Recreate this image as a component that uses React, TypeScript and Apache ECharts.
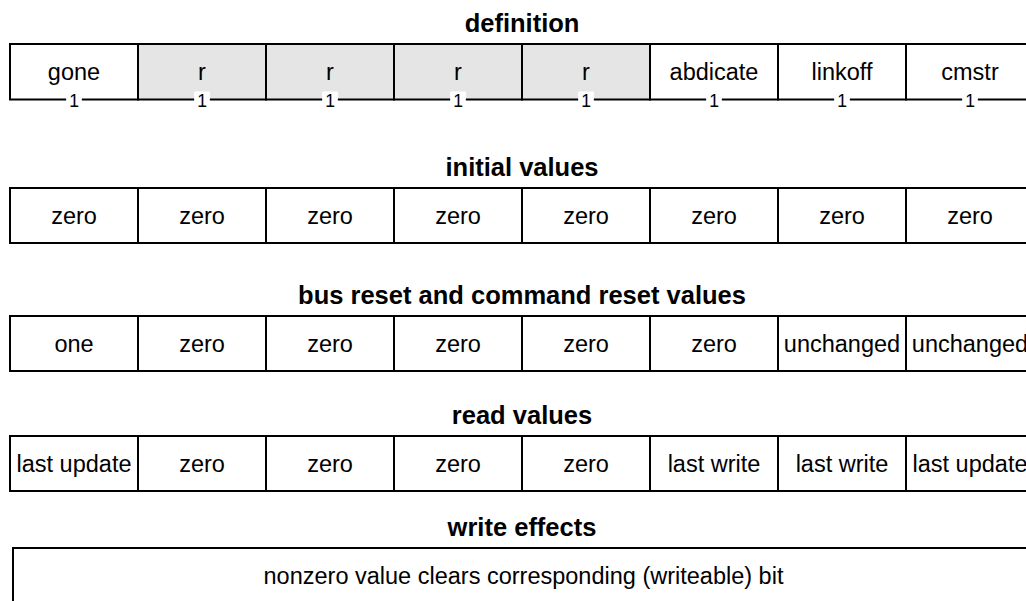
import React, { useEffect, useRef } from "react";
import * as echarts from "echarts";

// ---- data ----
const sectionTitles = [
  "definition",
  "initial values",
  "bus reset and command reset values",
  "read values",
  "write effects",
];
const fieldNames = ["gone", "r", "r", "r", "r", "abdicate", "linkoff", "cmstr"];
const fieldWidths = [1, 1, 1, 1, 1, 1, 1, 1];
const fieldReserved = [false, true, true, true, true, false, false, false];
const initialValues = ["zero", "zero", "zero", "zero", "zero", "zero", "zero", "zero"];
const resetValues = ["one", "zero", "zero", "zero", "zero", "zero", "unchanged", "unchanged"];
const readValues = ["last update", "zero", "zero", "zero", "zero", "last write", "last write", "last update"];
const writeEffects = ["nonzero value clears corresponding (writeable) bit"];
const writeEffectSpans = [8];

// ---- layout ----
const FONT = "'Liberation Sans', Arial, Helvetica, sans-serif";
const rowTops = [44, 188, 316, 436, 548];
const rowHeights = [55.5, 55, 55, 55, 56];
const rowLefts = [10, 10, 10, 10, 13];
const rowWidths = [1024, 1024, 1024, 1024, 1021];

type Cell = { start: number; span: number; label: string; shaded: boolean; bits?: number };

function cellsFrom(labels: string[], spans?: number[], shaded?: boolean[], bits?: boolean): Cell[] {
  const out: Cell[] = [];
  let pos = 0;
  labels.forEach((l, i) => {
    const span = spans ? spans[i] : 1;
    out.push({ start: pos, span, label: l, shaded: shaded ? shaded[i] : false, bits: bits && spans ? spans[i] : undefined });
    pos += span;
  });
  return out;
}

const rows: Cell[][] = [
  cellsFrom(fieldNames, fieldWidths, fieldReserved, true),
  cellsFrom(initialValues),
  cellsFrom(resetValues),
  cellsFrom(readValues),
  cellsFrom(writeEffects, writeEffectSpans),
];

export default function App() {
  const ref = useRef<HTMLDivElement>(null);
  useEffect(() => {
    if (!ref.current) return;
    const chart = echarts.init(ref.current, undefined, { renderer: "svg" });

    const grids = rows.map((_, i) => ({
      left: rowLefts[i],
      top: rowTops[i],
      width: rowWidths[i],
      height: rowHeights[i],
    }));
    const xAxes = rows.map((_, i) => ({ gridIndex: i, type: "value", min: 0, max: 8, show: false }));
    const yAxes = rows.map((_, i) => ({ gridIndex: i, type: "value", min: 0, max: 1, show: false }));

    const boxSeries = rows.map((cells, ri) => ({
      type: "custom",
      xAxisIndex: ri,
      yAxisIndex: ri,
      clip: false,
      z: 2,
      data: cells.map((c) => [c.start, c.span]),
      renderItem: (params: any, api: any) => {
        const c = cells[params.dataIndex];
        const p0 = api.coord([api.value(0), 1]);
        const p1 = api.coord([api.value(0) + api.value(1), 0]);
        return {
          type: "group",
          children: [
            {
              type: "rect",
              shape: { x: p0[0], y: p0[1], width: p1[0] - p0[0], height: p1[1] - p0[1] },
              style: { fill: c.shaded ? "#e5e5e5" : "#fff", stroke: "#000", lineWidth: 2 },
            },
            {
              type: "text",
              style: {
                text: c.label,
                x: (p0[0] + p1[0]) / 2,
                y: (p0[1] + p1[1]) / 2,
                align: "center",
                verticalAlign: "middle",
                fontFamily: FONT,
                fontSize: 23.5,
                fill: "#000",
              },
            },
          ],
        };
      },
    }));

    const defCells = rows[0];
    const bitSeries = {
      type: "custom",
      xAxisIndex: 0,
      yAxisIndex: 0,
      clip: false,
      z: 3,
      data: defCells.map((c) => [c.start, c.span, c.bits]),
      renderItem: (params: any, api: any) => {
        const p = api.coord([api.value(0) + api.value(1) / 2, 0]);
        return {
          type: "text",
          style: {
            text: String(api.value(2)),
            x: p[0],
            y: p[1] + 1,
            align: "center",
            verticalAlign: "middle",
            fontFamily: FONT,
            fontSize: 17.5,
            fill: "#000",
            backgroundColor: "#fff",
            padding: [0, 3],
          },
        };
      },
    };

    chart.setOption({
      animation: false,
      title: sectionTitles.map((t, i) => ({
        text: t,
        left: 522,
        top: rowTops[i] - 34,
        textAlign: "center",
        padding: 0,
        textStyle: { fontFamily: FONT, fontSize: 25.5, fontWeight: "bold", color: "#000" },
      })),
      grid: grids,
      xAxis: xAxes,
      yAxis: yAxes,
      series: [...boxSeries, bitSeries],
    });
    return () => chart.dispose();
  }, []);
  return (
    <div style={{ position: "absolute", left: 0, top: 0, width: 1026, height: 601, overflow: "hidden", background: "#fff" }}>
      <div ref={ref} style={{ position: "absolute", left: 0, top: 0, width: 1060, height: 612 }} />
    </div>
  );
}
